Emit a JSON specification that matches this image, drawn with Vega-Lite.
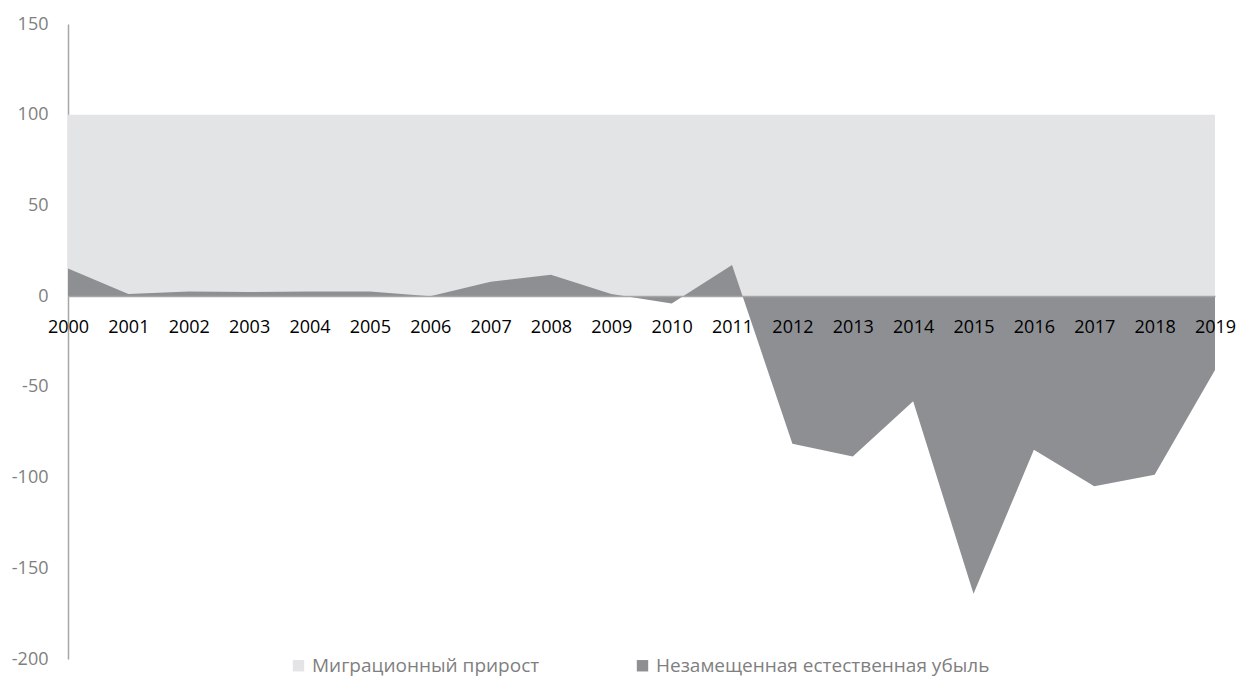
{
  "$schema": "https://vega.github.io/schema/vega-lite/v6.json",
  "autosize": {"type": "none"},
  "padding": {"left": 68, "top": 24, "right": 23, "bottom": 20},
  "width": 1147,
  "height": 635,
  "background": "white",
  "config": {
    "view": {"stroke": null},
    "font": "Open Sans"
  },
  "data": {
    "values": [
      {"year": "2000", "series": "Миграционный прирост", "value": 100},
      {"year": "2001", "series": "Миграционный прирост", "value": 100},
      {"year": "2002", "series": "Миграционный прирост", "value": 100},
      {"year": "2003", "series": "Миграционный прирост", "value": 100},
      {"year": "2004", "series": "Миграционный прирост", "value": 100},
      {"year": "2005", "series": "Миграционный прирост", "value": 100},
      {"year": "2006", "series": "Миграционный прирост", "value": 100},
      {"year": "2007", "series": "Миграционный прирост", "value": 100},
      {"year": "2008", "series": "Миграционный прирост", "value": 100},
      {"year": "2009", "series": "Миграционный прирост", "value": 100},
      {"year": "2010", "series": "Миграционный прирост", "value": 100},
      {"year": "2011", "series": "Миграционный прирост", "value": 100},
      {"year": "2012", "series": "Миграционный прирост", "value": 100},
      {"year": "2013", "series": "Миграционный прирост", "value": 100},
      {"year": "2014", "series": "Миграционный прирост", "value": 100},
      {"year": "2015", "series": "Миграционный прирост", "value": 100},
      {"year": "2016", "series": "Миграционный прирост", "value": 100},
      {"year": "2017", "series": "Миграционный прирост", "value": 100},
      {"year": "2018", "series": "Миграционный прирост", "value": 100},
      {"year": "2019", "series": "Миграционный прирост", "value": 100},
      {"year": "2000", "series": "Незамещенная естественная убыль", "value": 15.3},
      {"year": "2001", "series": "Незамещенная естественная убыль", "value": 1.2},
      {"year": "2002", "series": "Незамещенная естественная убыль", "value": 2.6},
      {"year": "2003", "series": "Незамещенная естественная убыль", "value": 2.3},
      {"year": "2004", "series": "Незамещенная естественная убыль", "value": 2.6},
      {"year": "2005", "series": "Незамещенная естественная убыль", "value": 2.5},
      {"year": "2006", "series": "Незамещенная естественная убыль", "value": 0},
      {"year": "2007", "series": "Незамещенная естественная убыль", "value": 8},
      {"year": "2008", "series": "Незамещенная естественная убыль", "value": 11.8},
      {"year": "2009", "series": "Незамещенная естественная убыль", "value": 1.2},
      {"year": "2010", "series": "Незамещенная естественная убыль", "value": -4},
      {"year": "2011", "series": "Незамещенная естественная убыль", "value": 17.2},
      {"year": "2012", "series": "Незамещенная естественная убыль", "value": -81.4},
      {"year": "2013", "series": "Незамещенная естественная убыль", "value": -88.4},
      {"year": "2014", "series": "Незамещенная естественная убыль", "value": -58},
      {"year": "2015", "series": "Незамещенная естественная убыль", "value": -164},
      {"year": "2016", "series": "Незамещенная естественная убыль", "value": -84.7},
      {"year": "2017", "series": "Незамещенная естественная убыль", "value": -104.8},
      {"year": "2018", "series": "Незамещенная естественная убыль", "value": -98.5},
      {"year": "2019", "series": "Незамещенная естественная убыль", "value": -40.7}
    ]
  },
  "mark": {"type": "area", "interpolate": "linear", "opacity": 1},
  "encoding": {
    "x": {
      "field": "year",
      "type": "ordinal",
      "scale": {"type": "point", "padding": 0},
      "axis": {
        "title": null,
        "labelAngle": 0,
        "labelFont": "Open Sans",
        "labelFontSize": 18,
        "labelColor": "#000000",
        "labelPadding": 22,
        "ticks": false,
        "domainColor": "#A6A6A6",
        "domainWidth": 1.5,
        "offset": -363,
        "zindex": 1
      }
    },
    "y": {
      "field": "value",
      "type": "quantitative",
      "stack": null,
      "scale": {"domain": [-200, 150], "nice": false, "zero": false},
      "axis": {
        "title": null,
        "values": [-200, -150, -100, -50, 0, 50, 100, 150],
        "labelExpr": "'' + datum.value",
        "grid": false,
        "ticks": false,
        "labelFont": "Open Sans",
        "labelFontSize": 18,
        "labelColor": "#7F7F7F",
        "labelPadding": 20,
        "domainColor": "#A6A6A6",
        "domainWidth": 1.5
      }
    },
    "color": {
      "field": "series",
      "type": "nominal",
      "sort": ["Миграционный прирост", "Незамещенная естественная убыль"],
      "scale": {
        "domain": ["Миграционный прирост", "Незамещенная естественная убыль"],
        "range": ["#E3E4E6", "#8E8F93"]
      },
      "legend": {
        "title": null,
        "orient": "none",
        "direction": "horizontal",
        "legendX": 221,
        "legendY": 632,
        "symbolType": "square",
        "symbolSize": 130,
        "symbolStrokeWidth": 0,
        "symbolOpacity": 1,
        "labelFont": "Open Sans",
        "labelFontSize": 19,
        "labelColor": "#7F7F7F",
        "labelOffset": 4,
        "columnPadding": 93,
        "labelLimit": 400
      }
    },
    "order": {"field": "series", "sort": "ascending"}
  }
}
